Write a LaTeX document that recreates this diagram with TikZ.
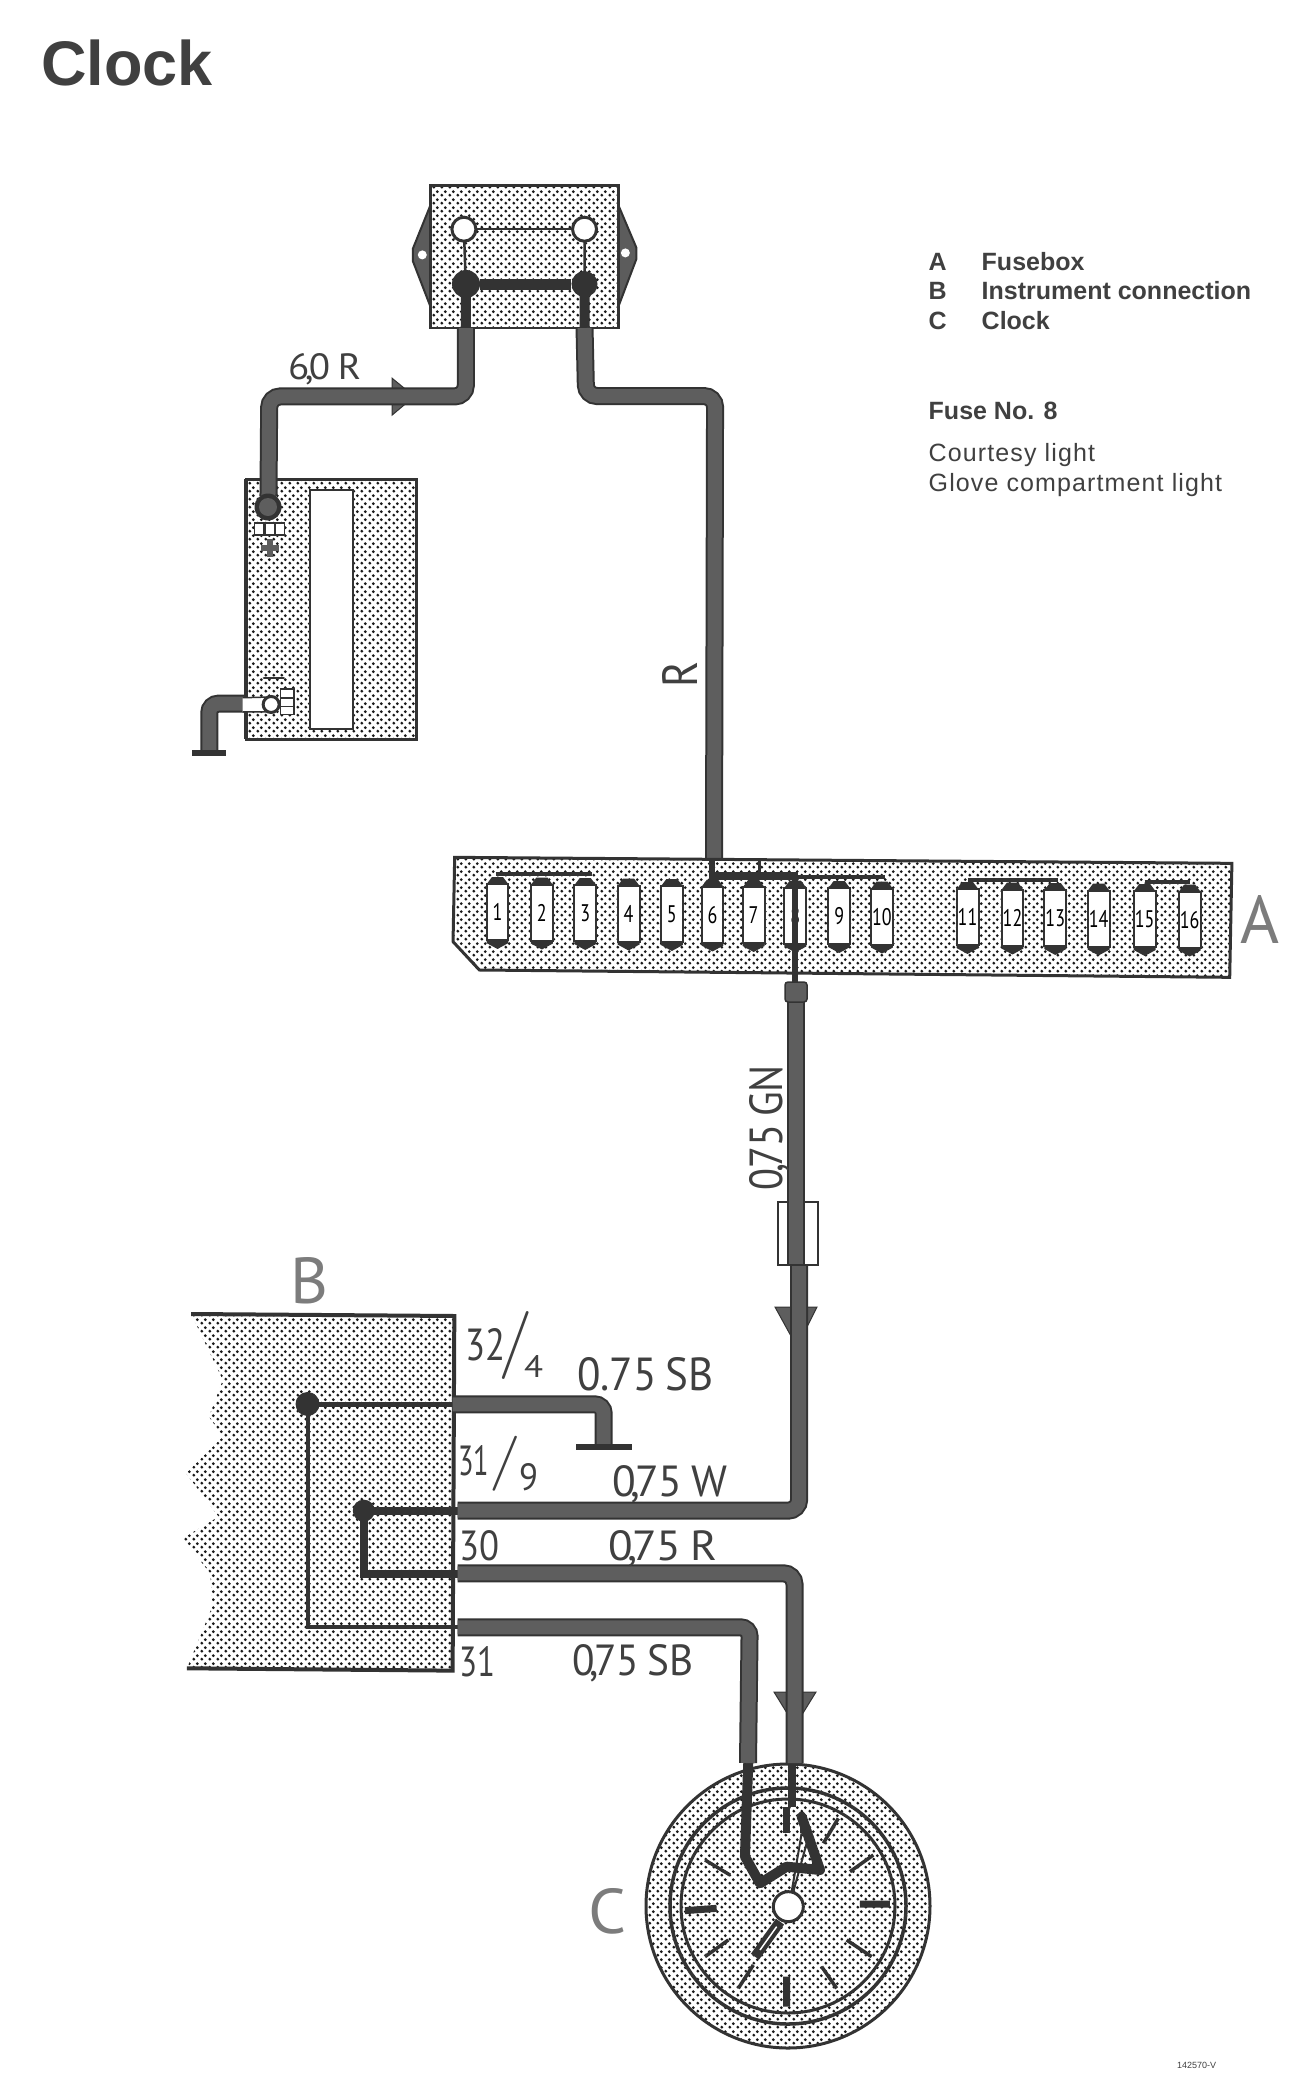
\documentclass[tikz,border=0pt]{standalone}
\usepackage{fontspec}
\usepackage{graphicx}
\usetikzlibrary{patterns}
\setmainfont{Liberation Sans}
\newfontfamily\labfont{PT Sans}
\newfontfamily\slashfont{Latin Modern Roman}
\definecolor{edge}{HTML}{333333}
\definecolor{wirefill}{HTML}{5E5E5E}
\definecolor{ink}{HTML}{404040}
\definecolor{letter}{HTML}{7C7C7C}
\pgfdeclarepatternformonly{stip}{\pgfqpoint{0pt}{0pt}}{\pgfqpoint{8pt}{8pt}}{\pgfqpoint{8pt}{8pt}}{%
 \pgfpathcircle{\pgfqpoint{2pt}{2pt}}{1.7pt}%
 \pgfpathcircle{\pgfqpoint{6pt}{6pt}}{1.7pt}%
 \pgfusepath{fill}}
\newcommand{\fit}[3]{\resizebox{#1pt}{#2pt}{\labfont\spaceskip=.2em\relax #3}}
\newcommand{\cm}{\kern-.12em,\kern-.12em}
\tikzset{
 z1/.style={shift={(170,160)},x=.3817pt,y=-.3954pt},
 z2/.style={shift={(430,820)},x=.5485pt,y=-.3333pt},
 z3/.style={shift={(170,1240)},x=.4231pt,y=-.3333pt},
 z4/.style={shift={(620,1700)},x=.3333pt,y=-.3333pt},
 stipple/.style={pattern=stip,pattern color=black!90},
 wire/.style={draw=edge,line width=2pt,double=wirefill,double distance=14pt,rounded corners=11pt},
 inwire/.style={draw=edge,line width=#1,line cap=round,line join=round},
 outline/.style={draw=edge,line width=#1},
 lab/.style={inner sep=0pt,anchor=base west,text=ink},
 rlab/.style={inner sep=0pt,anchor=base,rotate=90,text=ink},
 slab/.style={inner sep=0pt,anchor=south west,text=ink},
 big/.style={inner sep=0pt,anchor=base west,text=letter},
 legb/.style={inner sep=0pt,anchor=base west,text=ink,font=\fontsize{25}{25}\selectfont\bfseries},
 legr/.style={inner sep=0pt,anchor=base west,text=ink,font=\fontsize{25}{25}\selectfont\addfontfeature{LetterSpace=4.5}},
 dotnode/.style={circle,fill=edge,inner sep=0pt,minimum size=#1},
 hole/.style={circle,fill=white,draw=edge,line width=3pt,inner sep=0pt,minimum size=#1},
 fnum/.style={inner sep=0pt,text=black,font=\labfont\fontsize{24}{24}\selectfont},
 arrowtip/.style={fill=wirefill,draw=edge,line width=1pt},
}
\begin{document}
\begin{tikzpicture}[x=1pt,y=-1pt]
\useasboundingbox (0,0) rectangle (1313,2085);
\fill[white] (0,0) rectangle (1313,2085);

% Title and legend
\node[inner sep=0pt,anchor=base west,text=ink,font=\fontsize{63}{63}\selectfont\bfseries] (title) at (41,85) {Clock};
\node[legb] (la) at (928.5,270) {A};
\node[legb] (lat) at (981.5,270) {Fusebox};
\node[legb] (lb) at (928.5,299.5) {B};
\node[legb] (lbt) at (981.5,299.5) {Instrument connection};
\node[legb] (lc) at (928.5,329) {C};
\node[legb] (lct) at (981.5,329) {Clock};
\node[legb] (lf) at (928.5,419) {Fuse No. 8};
\node[legr] (l1) at (928.5,461) {Courtesy light};
\node[legr] (l2) at (928.5,491) {Glove compartment light};
\node[inner sep=0pt,anchor=base west,text=ink,font=\fontsize{9}{9}\selectfont] (code) at (1177,2068) {142570-V};

% Central box and battery
\begin{scope}[z1]
 \filldraw[outline=2pt,fill=edge!80] (682,115)--(636,225)--(636,255)--(682,370)--cycle;
 \filldraw[outline=2pt,fill=edge!80] (1175,115)--(1222,222)--(1222,250)--(1175,370)--cycle;
 \fill[white] (661,240) circle (4.5pt) (1193,235) circle (4.5pt);
 \fill[white] (682,65) rectangle (1175,425);
 \path[stipple] (682,65) rectangle (1175,425);
 \draw[outline=2.5pt] (682,65) rectangle (1175,425);
 \draw[outline=2.5pt] (770,175)--(1086,175);
 \draw[outline=2.5pt] (770,175)--(775,320) (1086,175)--(1086,320);
 \node[hole=24pt] (wl) at (770,175) {};
 \node[hole=24pt] (wr) at (1086,175) {};
 \coordinate (bl) at (775,425);
 \coordinate (br) at (1086,425);
 \coordinate (c1) at (775,598);
 \coordinate (c2) at (260,598);
 \coordinate (c3) at (258,850);
 \coordinate (c4) at (1090,597);
 \coordinate (c5) at (1428,597);
 % battery
 \fill[white] (200,808) rectangle (645,1465);
 \path[stipple] (200,808) rectangle (645,1465);
 \draw[outline=3pt] (200,808) rectangle (645,1465);
 \draw[outline=4pt] (200,808)--(200,1465);
 \filldraw[outline=2pt,fill=white] (368,835) rectangle (480,1438);
 \filldraw[outline=1.5pt,fill=white] (222,918) rectangle (300,948);
 \draw[outline=2.5pt] (247,918)--(247,948) (275,918)--(275,948);
 \filldraw[outline=1.5pt,fill=white] (290,1338) rectangle (325,1402);
 \draw[outline=1.5pt] (290,1360)--(325,1360) (290,1382)--(325,1382);
 \draw[draw=wirefill,line width=5.5pt] (238,981)--(285,981) (262,958)--(262,1004);
 \draw[inwire=2.5pt] (246,1310)--(298,1310);
 \coordinate (g1) at (195,1375);
 \coordinate (g2) at (103,1375);
 \coordinate (g3) at (103,1500);
 \coordinate (gb1) at (58,1500);
 \coordinate (gb2) at (148,1500);
 \filldraw[arrowtip] (582,552)--(640,598)--(582,645)--cycle;
\end{scope}
\draw[inwire=10pt,line cap=butt] (bl)--(466,284);
\draw[inwire=10pt,line cap=butt] (br)--(584.5,284);
\draw[wire] (bl)--(c1)--(c2)--(c3);
\draw[wire] (br)--(c4)--(c5)--(714,860);
\node[dotnode=28pt] (dl) at (466,284) {};
\node[dotnode=26pt] (dr) at (584.5,284) {};
\draw[inwire=11pt,line cap=butt] (dl)--(dr);
\node[dotnode=27pt] (pt) at (268,507) {};
\fill[wirefill] (pt) circle (9pt);
\draw[wire,rounded corners=9pt] (g1)--(g2)--(g3);
\draw[outline=6pt] (gb1)--(gb2);
\begin{scope}[z1]
 \fill[white] (190,1360)--(265,1358)--(265,1396)--(190,1396)--cycle;
 \draw[outline=1.5pt] (190,1360)--(265,1358) (190,1396)--(265,1396);
 \node[hole=16pt] (nt) at (265,1377) {};
\end{scope}

% Fusebox A
\begin{scope}[z2]
 \fill[white] (45,112)--(1462,130)--(1458,472)--(90,450)--(42,365)--cycle;
 \path[stipple] (45,112)--(1462,130)--(1458,472)--(90,450)--(42,365)--cycle;
 \draw[outline=3pt] (45,112)--(1462,130)--(1458,472)--(90,450)--(42,365)--cycle;
 % buses
 \draw[outline=4pt] (120,162)--(295,162);
 \draw[outline=4pt] (980,180)--(1145,180);
 \draw[outline=4pt] (1303,185)--(1385,185);
 \draw[outline=3pt] (515,118)--(600,118)--(600,160);
 \draw[outline=8pt] (515,168)--(670,168);
 \draw[outline=4pt] (670,172)--(830,172);
 \draw[outline=6pt] (515,120)--(515,180);
 \foreach \i/\x in {1/123,2/204,3/283,4/362,5/441,6/515,7/590,8/666,9/746,10/824,11/980,12/1062,13/1140,14/1219,15/1303,16/1385}{
  \pgfmathsetmacro\t{193+1.5*(\i-1)}
  \pgfmathsetmacro\ta{\t-22}
  \pgfmathsetmacro\tb{\t+168}
  \pgfmathsetmacro\tc{\t+176}
  \pgfmathsetmacro\td{\t+194}
  \pgfmathsetmacro\tm{\t+84}
  \fill[edge] (\x-20,\t)--(\x-10,\ta)--(\x+10,\ta)--(\x+20,\t)--cycle;
  \fill[edge] (\x-20,\tb)--(\x+20,\tb)--(\x+20,\tc)--(\x,\td)--(\x-20,\tc)--cycle;
  \filldraw[outline=2pt,fill=white] (\x-20,\t) rectangle (\x+20,\tb);
  \node[fnum] (fuse\i) at (\x,\tm) {\scalebox{.75}[1]{\i}};
 }
 \draw[outline=6pt] (666,170)--(666,490);
\end{scope}
\node[inner sep=0pt,anchor=base west] (letA) at (1240,943) {\textcolor{letter}{\fit{39}{48}{A}}};

% Instrument connection B
\begin{scope}[z3]
 \fill[white] (50,222)--(672,228)--(668,1292)--(40,1285)--(100,1100)--(95,1000)--(30,895)--(115,830)--(38,700)--(125,590)--(92,530)--(125,420)--cycle;
 \path[stipple] (50,222)--(672,228)--(668,1292)--(40,1285)--(100,1100)--(95,1000)--(30,895)--(115,830)--(38,700)--(125,590)--(92,530)--(125,420)--cycle;
 \draw[outline=4pt] (50,222)--(672,228)--(668,1292)--(40,1285);
 \coordinate (dA) at (325,492);
 \coordinate (dB) at (458,812);
 \draw[outline=4pt] (dA)--(325,1162)--(680,1162);
 \draw[outline=5pt] (dA)--(680,492);
 \draw[outline=8pt] (dB)--(710,812);
 \draw[outline=8pt] (dB)--(458,1002)--(710,1002);
 \coordinate (sbs) at (668,493);
 \coordinate (sbc) at (1025,493);
 \coordinate (sbe) at (1025,622);
 \coordinate (wis) at (680,812);
 \coordinate (wic) at (1487,812);
 \coordinate (ris) at (680,1000);
 \coordinate (ric) at (1476,1000);
 \coordinate (bot) at (680,1162);
 \coordinate (boc) at (1370,1162);
 \coordinate (tb1) at (960,622);
 \coordinate (tb2) at (1092,622);
\end{scope}
\node[dotnode=24pt] (dota) at (dA) {};
\node[dotnode=22pt] (dotb) at (dB) {};
\coordinate (wtop) at (799,1264);
\coordinate (gnb) at (796,1264);
\coordinate (gnt) at (796,985);
\coordinate (cltop1) at (748,1763);
\coordinate (cltop2) at (794.5,1763);
\draw[wire,rounded corners=9pt] (sbs)--(sbc)--(sbe);
\draw[outline=6pt] (tb1)--(tb2);

% Clock
\fill[white] (788,1906) circle (142pt);
\path[stipple] (788,1906) circle (142pt);
\draw[outline=3pt] (788,1906) circle (142pt);
\draw[outline=3.5pt] (788,1906) circle (118pt);
\draw[outline=3pt] (788,1906) circle (107pt);
\begin{scope}[z4]
 \draw[outline=7pt] (720,612)--(810,612) (500,830)--(500,920) (195,632)--(290,625);
 \draw[outline=3.5pt] (655,355)--(610,430) (760,465)--(690,515) (680,720)--(755,770) (605,800)--(650,865) (400,795)--(355,865) (325,720)--(255,770) (255,480)--(330,525);
 \draw[inwire=10pt] (385,185)--(380,320)--(375,470)--(420,550)--(500,500)--(600,510)--(545,350);
 \draw[inwire=8pt,line cap=butt] (515,185)--(515,320);
 \draw[outline=7pt] (500,320)--(500,400) (550,345)--(550,400);
 \draw[outline=2pt] (545,400)--(515,575) (560,430)--(520,575);
 \draw[outline=10pt] (480,665)--(405,770);
 \draw[white,line width=1.5pt] (470,680)--(420,750);
 \node[hole=30pt] (hub) at (505,620) {};
\end{scope}
% Arrowheads lie under the wires
\filldraw[arrowtip] (775,1307)--(817,1307)--(797,1347)--cycle;
\filldraw[arrowtip] (774,1692)--(816,1692)--(795,1726)--cycle;
\draw[wire] (wis)--(wic)--(wtop);
\draw[wire] (ris)--(ric)--(cltop2);
\draw[wire,rounded corners=9pt] (bot)--(boc)--(cltop1);
% Fuse holder and wire 0,75 GN
\filldraw[outline=2.5pt,fill=white] (778,1202) rectangle (818,1265);
\draw[wire] (gnb)--(gnt);
\filldraw[outline=1.5pt,fill=wirefill,rounded corners=3pt] (785,982) rectangle (807,1002);

% Labels
\node[lab] (t60) at (288,379) {\fit{73}{26}{6\cm0 R}};
\node[rlab] (tr) at (697,674) {\fit{26}{35}{R}};
\node[rlab] (tgn) at (782,1127.5) {\fit{125}{33}{0\cm75 GN}};
\node[lab] (t32) at (465,1360) {\fit{40}{32}{32}};
\node[slab] (s32) at (498,1380) {\resizebox*{34.5pt}{68pt}{\slashfont /}};
\node[lab] (t4) at (524,1377) {\fit{19}{22}{4}};
\node[lab] (t31a) at (458,1475) {\fit{31}{30}{31}};
\node[slab] (s31) at (489.5,1491.5) {\resizebox*{31.5pt}{55pt}{\slashfont /}};
\node[lab] (t9) at (519,1490) {\fit{19}{27}{9}};
\node[lab] (tsb1) at (577,1390) {\fit{136}{33}{0.75 SB}};
\node[lab] (tw) at (612,1496) {\fit{115}{31}{0\cm75 W}};
\node[lab] (t30) at (459,1560) {\fit{40}{30}{30}};
\node[lab] (trr) at (608,1560) {\fit{109}{30}{0\cm75 R}};
\node[lab] (t31b) at (459,1676) {\fit{36}{30}{31}};
\node[lab] (tsb2) at (572,1675) {\fit{121}{31}{0\cm75 SB}};
\node[big] (letB) at (290,1303) {\fit{38}{46}{B}};
\node[big] (letC) at (588,1933) {\fit{38}{45}{C}};
\end{tikzpicture}
\end{document}
